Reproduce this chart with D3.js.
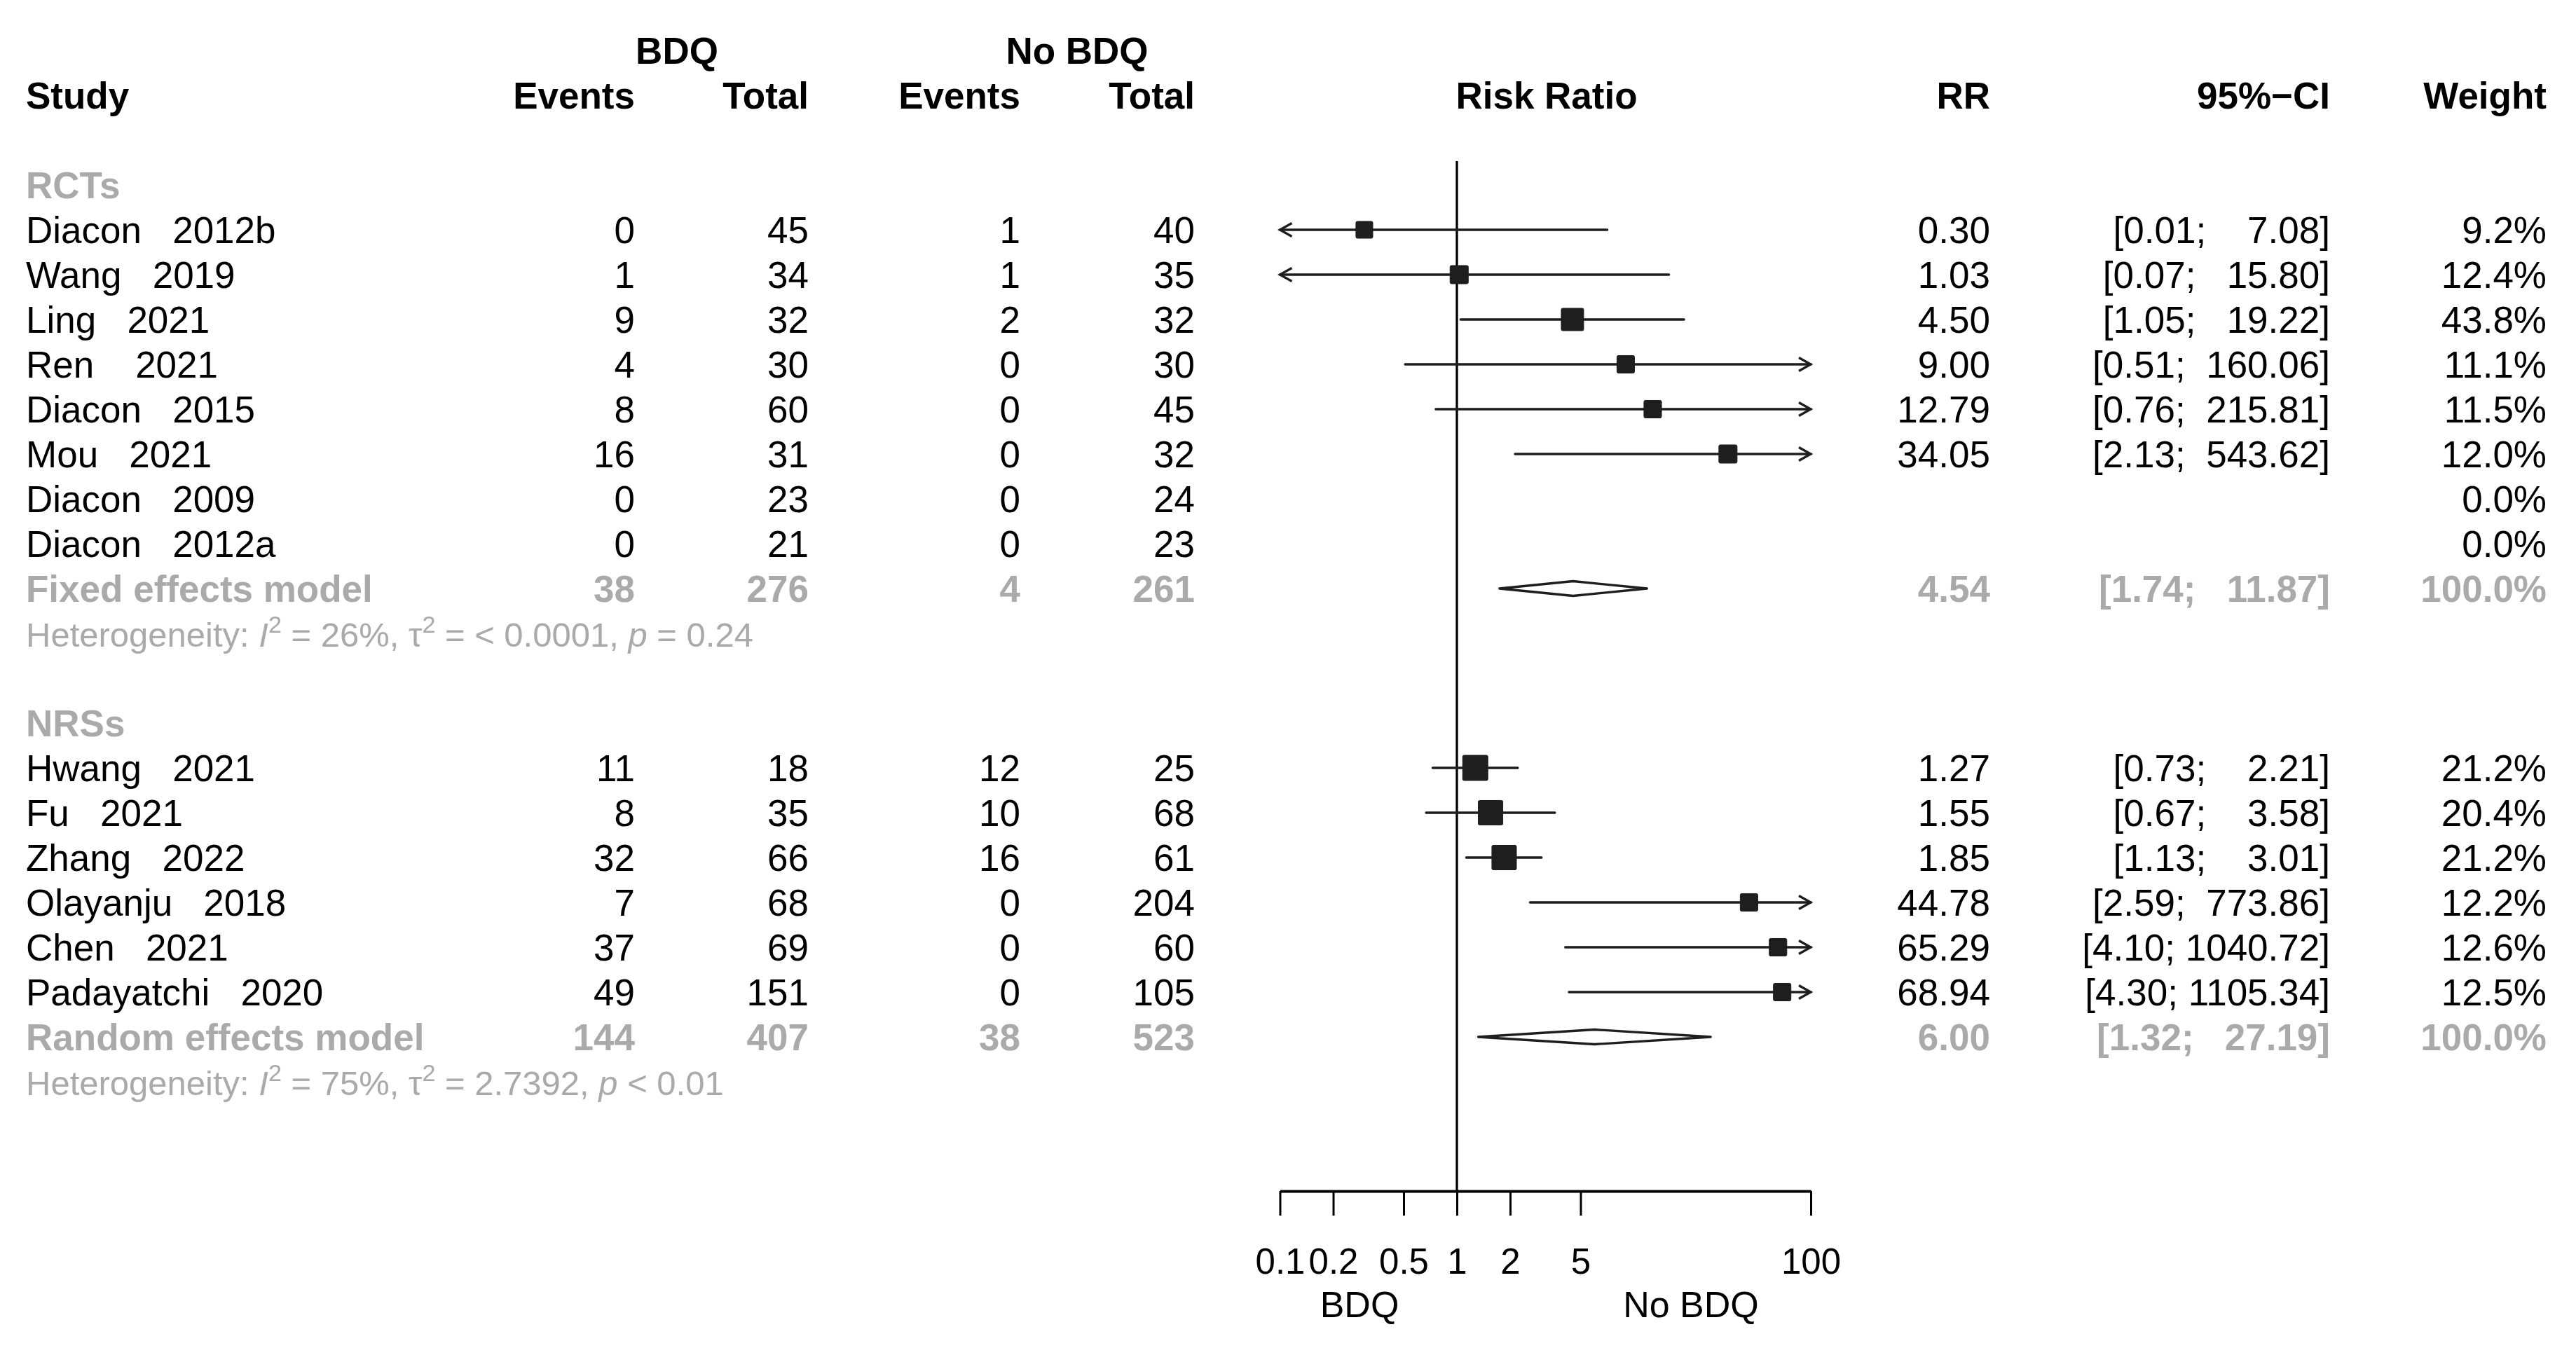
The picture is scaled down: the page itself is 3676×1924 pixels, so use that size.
<!DOCTYPE html>
<html>
<head>
<meta charset="utf-8">
<script src="https://cdn.jsdelivr.net/npm/d3@7"></script>
<style>
  body { margin: 0; background: #fff; }
  text { font-family: "Liberation Sans", Arial, Helvetica, sans-serif; white-space: pre; }
</style>
</head>
<body>
<svg id="chart" width="3676" height="1924"></svg>
<script>
// ---- data ----
const studyLabels = [
  "Diacon   2012b", "Wang   2019", "Ling   2021", "Ren    2021", "Diacon   2015",
  "Mou   2021", "Diacon   2009", "Diacon   2012a",
  "Hwang   2021", "Fu   2021", "Zhang   2022", "Olayanju   2018", "Chen   2021", "Padayatchi   2020",
];
const studyGroup = ["RCTs", "RCTs", "RCTs", "RCTs", "RCTs", "RCTs", "RCTs", "RCTs",
  "NRSs", "NRSs", "NRSs", "NRSs", "NRSs", "NRSs"];
const bdqEvents = [0, 1, 9, 4, 8, 16, 0, 0, 11, 8, 32, 7, 37, 49];
const bdqTotal = [45, 34, 32, 30, 60, 31, 23, 21, 18, 35, 66, 68, 69, 151];
const noBdqEvents = [1, 1, 2, 0, 0, 0, 0, 0, 12, 10, 16, 0, 0, 0];
const noBdqTotal = [40, 35, 32, 30, 45, 32, 24, 23, 25, 68, 61, 204, 60, 105];
const riskRatio = [0.30, 1.03, 4.50, 9.00, 12.79, 34.05, null, null, 1.27, 1.55, 1.85, 44.78, 65.29, 68.94];
const ciLower = [0.01, 0.07, 1.05, 0.51, 0.76, 2.13, null, null, 0.73, 0.67, 1.13, 2.59, 4.10, 4.30];
const ciUpper = [7.08, 15.80, 19.22, 160.06, 215.81, 543.62, null, null, 2.21, 3.58, 3.01, 773.86, 1040.72, 1105.34];
const weightPct = [9.2, 12.4, 43.8, 11.1, 11.5, 12.0, 0.0, 0.0, 21.2, 20.4, 21.2, 12.2, 12.6, 12.5];
// overall weights behind the square sizes (estimated from the square areas)
const plotWeight = [5.9, 6.9, 10.4, 6.4, 6.4, 6.9, 0, 0, 13.2, 12.5, 12.5, 6.4, 6.4, 6.4];

const groupNames = ["RCTs", "NRSs"];
const pooledLabels = ["Fixed effects model", "Random effects model"];
const pooledBdqEvents = [38, 144];
const pooledBdqTotal = [276, 407];
const pooledNoBdqEvents = [4, 38];
const pooledNoBdqTotal = [261, 523];
const pooledRR = [4.54, 6.00];
const pooledLower = [1.74, 1.32];
const pooledUpper = [11.87, 27.19];
const pooledWeight = [100.0, 100.0];
const hetI2 = ["26%", "75%"];
const hetTau2 = ["< 0.0001", "2.7392"];
const hetP = ["= 0.24", "< 0.01"];

const axisTicks = [0.1, 0.2, 0.5, 1, 2, 5, 100];
const axisLabels = ["BDQ", "No BDQ"];

// ---- layout ----
const FS = 53;
const FS_SMALL = 49;
const GREY = "#aaaaaa";
const INK = "#1e1e1e";

const svg = d3.select("#chart");

const col = {
  study: 37,
  bdqEvents: 906,
  bdqTotal: 1154,
  noEvents: 1456,
  noTotal: 1705,
  rr: 2840,
  ci: 3325,
  weight: 3634,
};

// row index -> text baseline
const yRow = d3.scaleLinear().domain([0, 23]).range([91, 1563]);
const markOffset = -19;

const x = d3.scaleLog().domain([0.1, 100]).range([1826.5, 2584]);
const sq = d3.scaleSqrt().domain([0, d3.max(plotWeight)]).range([0, 36]);

const fmt2 = d3.format(".2f");
const fmt1 = d3.format(".1f");
const ciText = (lo, hi) => `[${fmt2(lo)}; ${fmt2(hi).padStart(7, " ")}]`;

function txt(xp, k, s, opts = {}) {
  return svg.append("text")
    .attr("x", xp)
    .attr("y", yRow(k))
    .attr("xml:space", "preserve")
    .attr("text-anchor", opts.anchor || "start")
    .attr("font-size", opts.size || FS)
    .attr("font-weight", opts.bold ? "bold" : "normal")
    .attr("fill", opts.fill || "#000")
    .text(s);
}

// headers
txt(966, 0, "BDQ", { anchor: "middle", bold: true });
txt(1537, 0, "No BDQ", { anchor: "middle", bold: true });
txt(col.study, 1, "Study", { bold: true });
txt(col.bdqEvents, 1, "Events", { anchor: "end", bold: true });
txt(col.bdqTotal, 1, "Total", { anchor: "end", bold: true });
txt(col.noEvents, 1, "Events", { anchor: "end", bold: true });
txt(col.noTotal, 1, "Total", { anchor: "end", bold: true });
txt(2207, 1, "Risk Ratio", { anchor: "middle", bold: true });
txt(col.rr, 1, "RR", { anchor: "end", bold: true });
txt(col.ci, 1, "95%\u2212CI", { anchor: "end", bold: true });
txt(col.weight, 1, "Weight", { anchor: "end", bold: true });

// reference line at RR = 1
svg.append("line")
  .attr("x1", x(1)).attr("x2", x(1))
  .attr("y1", 230).attr("y2", 1700)
  .attr("stroke", "#000").attr("stroke-width", 3.3);

const marks = svg.append("g");

function drawStudy(i, k) {
  txt(col.study, k, studyLabels[i]);
  txt(col.bdqEvents, k, bdqEvents[i], { anchor: "end" });
  txt(col.bdqTotal, k, bdqTotal[i], { anchor: "end" });
  txt(col.noEvents, k, noBdqEvents[i], { anchor: "end" });
  txt(col.noTotal, k, noBdqTotal[i], { anchor: "end" });
  txt(col.weight, k, fmt1(weightPct[i]) + "%", { anchor: "end" });
  if (riskRatio[i] == null) return;
  txt(col.rr, k, fmt2(riskRatio[i]), { anchor: "end" });
  txt(col.ci, k, ciText(ciLower[i], ciUpper[i]), { anchor: "end" });

  const yc = yRow(k) + markOffset;
  const [d0, d1] = x.domain();
  const lo = Math.max(ciLower[i], d0);
  const hi = Math.min(ciUpper[i], d1);
  marks.append("line")
    .attr("x1", x(lo)).attr("x2", x(hi))
    .attr("y1", yc).attr("y2", yc)
    .attr("stroke", INK).attr("stroke-width", 3.3).attr("stroke-linecap", "round");
  if (ciLower[i] < d0) {
    const t = x(d0);
    marks.append("path")
      .attr("d", `M${t + 17},${yc - 9.5}L${t},${yc}L${t + 17},${yc + 9.5}`)
      .attr("fill", "none").attr("stroke", INK).attr("stroke-width", 3.3);
  }
  if (ciUpper[i] > d1) {
    const t = x(d1);
    marks.append("path")
      .attr("d", `M${t - 17},${yc - 9.5}L${t},${yc}L${t - 17},${yc + 9.5}`)
      .attr("fill", "none").attr("stroke", INK).attr("stroke-width", 3.3);
  }
  const s = sq(plotWeight[i]);
  marks.append("rect")
    .attr("x", x(riskRatio[i]) - s / 2)
    .attr("y", yc - s / 2)
    .attr("width", s).attr("height", s)
    .attr("fill", INK).attr("stroke", INK).attr("stroke-width", 1)
    .attr("rx", 2);
}

function drawPooled(g, k) {
  const o = { anchor: "end", bold: true, fill: GREY };
  txt(col.study, k, pooledLabels[g], { bold: true, fill: GREY });
  txt(col.bdqEvents, k, pooledBdqEvents[g], o);
  txt(col.bdqTotal, k, pooledBdqTotal[g], o);
  txt(col.noEvents, k, pooledNoBdqEvents[g], o);
  txt(col.noTotal, k, pooledNoBdqTotal[g], o);
  txt(col.rr, k, fmt2(pooledRR[g]), o);
  txt(col.ci, k, ciText(pooledLower[g], pooledUpper[g]), o);
  txt(col.weight, k, fmt1(pooledWeight[g]) + "%", o);

  const yc = yRow(k) + markOffset;
  const h = 10.5;
  marks.append("path")
    .attr("d", `M${x(pooledLower[g])},${yc}L${x(pooledRR[g])},${yc - h}L${x(pooledUpper[g])},${yc}L${x(pooledRR[g])},${yc + h}Z`)
    .attr("fill", "#fff").attr("stroke", INK).attr("stroke-width", 3.3)
    .attr("stroke-linejoin", "round");
}

function drawHet(g, k) {
  const t = svg.append("text")
    .attr("x", col.study).attr("y", yRow(k))
    .attr("xml:space", "preserve")
    .attr("font-size", FS_SMALL).attr("fill", GREY);
  const sup = (s) => {
    t.append("tspan").attr("dy", -20).attr("font-size", 34).text(s);
  };
  t.append("tspan").text("Heterogeneity: ");
  t.append("tspan").attr("font-style", "italic").text("I");
  sup("2");
  t.append("tspan").attr("dy", 20).text(` = ${hetI2[g]}, `);
  t.append("tspan").text("\u03c4");
  sup("2");
  t.append("tspan").attr("dy", 20).text(` = ${hetTau2[g]}, `);
  t.append("tspan").attr("font-style", "italic").text("p");
  t.append("tspan").text(` ${hetP[g]}`);
}

// body rows
let k = 3;
groupNames.forEach((grp, g) => {
  txt(col.study, k, grp, { bold: true, fill: GREY });
  k++;
  studyGroup.forEach((sg, i) => {
    if (sg !== grp) return;
    drawStudy(i, k);
    k++;
  });
  drawPooled(g, k);
  k++;
  drawHet(g, k);
  k += 2;
});

// x axis
const axisY = 1700;
const axis = svg.append("g")
  .attr("transform", `translate(0,${axisY})`)
  .call(
    d3.axisBottom(x)
      .tickValues(axisTicks)
      .tickFormat((d) => String(d))
      .tickSizeInner(35)
      .tickSizeOuter(0)
      .tickPadding(47)
  );
axis.select(".domain").attr("stroke", "#000").attr("stroke-width", 3.8);
axis.selectAll(".tick line").attr("stroke", "#000").attr("stroke-width", 3);
axis.selectAll(".tick text")
  .attr("font-size", 51)
  .attr("font-family", "'Liberation Sans', Arial, sans-serif")
  .attr("fill", "#000");

svg.append("text")
  .attr("x", 1940).attr("y", 1880)
  .attr("text-anchor", "middle").attr("font-size", 52)
  .text(axisLabels[0]);
svg.append("text")
  .attr("x", 2413).attr("y", 1880)
  .attr("text-anchor", "middle").attr("font-size", 52)
  .text(axisLabels[1]);
</script>
</body>
</html>
